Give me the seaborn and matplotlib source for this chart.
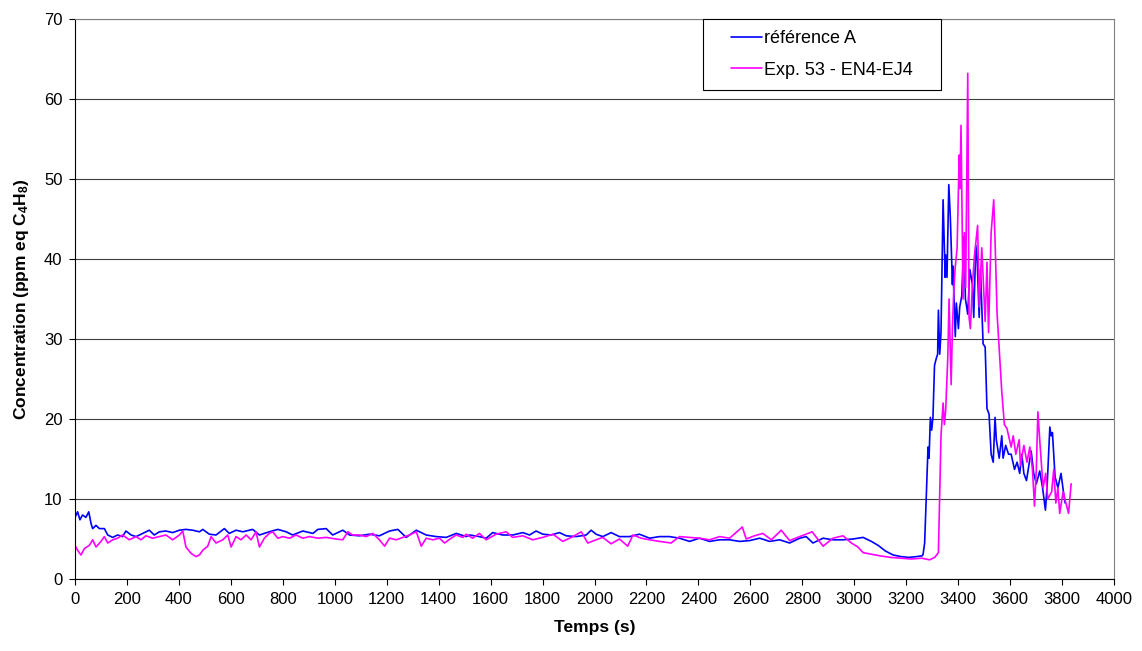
import pandas as pd
import seaborn as sb
import matplotlib.pyplot as plt
from matplotlib.patches import Rectangle

# référence A (blue)
t_ref = [0, 10, 19, 29, 42, 53, 62, 68, 81, 94, 113, 126, 145, 164, 183, 196, 216, 235, 261, 286,
         305, 325, 350, 376, 402, 427, 453, 479, 492, 517, 543, 575, 594, 620, 646, 684, 710, 748, 781, 813,
         838, 877, 916, 935, 967, 992, 1031, 1057, 1095, 1134, 1172, 1211, 1243, 1275, 1314, 1352, 1391, 1429, 1468, 1506,
         1519, 1557, 1583, 1608, 1647, 1686, 1724, 1750, 1775, 1801, 1833, 1865, 1891, 1929, 1968, 1987, 2006, 2032, 2064, 2096,
         2135, 2173, 2212, 2250, 2289, 2327, 2366, 2404, 2443, 2482, 2520, 2559, 2597, 2636, 2674, 2713, 2751, 2790, 2815, 2841,
         2880, 2918, 2957, 2995, 3034, 3066, 3092, 3120, 3150, 3180, 3210, 3240, 3262, 3265, 3271, 3278, 3284, 3288, 3293, 3298,
         3303, 3309, 3316, 3321, 3324, 3329, 3334, 3342, 3350, 3352, 3357, 3364, 3370, 3378, 3380, 3389, 3393, 3401, 3406, 3414,
         3422, 3428, 3437, 3445, 3455, 3460, 3468, 3473, 3481, 3486, 3496, 3504, 3511, 3519, 3527, 3535, 3542, 3547, 3558, 3568,
         3573, 3583, 3594, 3604, 3617, 3627, 3637, 3645, 3653, 3663, 3681, 3691, 3701, 3714, 3725, 3736, 3743, 3753, 3758, 3763,
         3773, 3784, 3796, 3807, 3812]
c_ref = [7.7, 8.4, 7.4, 8.0, 7.7, 8.4, 6.9, 6.3, 6.7, 6.3, 6.3, 5.5, 5.2, 5.5, 5.3, 6.0, 5.5, 5.3, 5.7, 6.1,
         5.5, 5.9, 6.0, 5.8, 6.1, 6.2, 6.1, 5.9, 6.2, 5.6, 5.5, 6.3, 5.7, 6.1, 5.9, 6.2, 5.5, 5.9, 6.2, 5.9,
         5.5, 6.0, 5.7, 6.2, 6.3, 5.5, 6.1, 5.5, 5.4, 5.6, 5.4, 6.0, 6.2, 5.2, 6.1, 5.5, 5.3, 5.2, 5.7, 5.3,
         5.5, 5.3, 5.1, 5.8, 5.5, 5.5, 5.8, 5.5, 6.0, 5.6, 5.5, 5.8, 5.4, 5.3, 5.5, 6.1, 5.6, 5.3, 5.8, 5.3,
         5.3, 5.6, 5.1, 5.3, 5.3, 5.1, 4.7, 5.1, 4.7, 4.9, 4.9, 4.7, 4.8, 5.1, 4.7, 4.9, 4.5, 5.1, 5.3, 4.5,
         5.1, 4.9, 4.9, 5.0, 5.2, 4.7, 4.2, 3.5, 3.0, 2.8, 2.7, 2.8, 2.9, 3.1, 4.5, 10.9, 16.5, 15.1, 20.2, 18.6,
         20.2, 26.7, 27.6, 28.1, 33.6, 28.1, 30.8, 47.4, 37.7, 40.5, 37.7, 49.3, 45.1, 36.8, 39.1, 30.3, 34.5, 31.3, 34.0, 35.4,
         42.8, 35.0, 33.1, 38.7, 36.8, 32.7, 41.7, 40.1, 32.7, 38.7, 29.4, 29.0, 21.3, 20.6, 15.6, 14.6, 20.2, 17.4, 15.1, 17.9,
         15.1, 16.7, 15.6, 15.6, 13.7, 14.6, 13.2, 15.6, 13.2, 12.3, 16.0, 13.2, 11.9, 13.5, 11.4, 8.6, 11.9, 19.0, 17.9, 18.3,
         12.8, 11.4, 13.2, 10.5, 9.5]

# Exp. 53 - EN4-EJ4 (magenta)
t_exp = [0, 10, 23, 36, 55, 68, 81, 100, 113, 126, 145, 164, 183, 209, 235, 254, 273, 299, 325, 350,
         376, 402, 415, 427, 447, 466, 479, 492, 511, 524, 543, 569, 588, 601, 620, 639, 659, 678, 697, 710,
         729, 748, 761, 781, 800, 826, 851, 877, 903, 935, 967, 1005, 1031, 1050, 1069, 1095, 1121, 1147, 1172, 1192,
         1211, 1237, 1262, 1288, 1314, 1333, 1352, 1378, 1403, 1423, 1448, 1468, 1493, 1506, 1531, 1557, 1583, 1621, 1660, 1685,
         1724, 1762, 1801, 1840, 1878, 1917, 1949, 1974, 2006, 2032, 2064, 2096, 2128, 2148, 2180, 2212, 2250, 2295, 2327, 2366,
         2404, 2443, 2482, 2520, 2569, 2584, 2616, 2648, 2681, 2719, 2751, 2790, 2838, 2880, 2918, 2957, 2989, 3014, 3034, 3066,
         3098, 3140, 3180, 3220, 3260, 3290, 3310, 3324, 3329, 3334, 3342, 3347, 3352, 3360, 3365, 3373, 3378, 3383, 3388, 3396,
         3404, 3407, 3411, 3419, 3424, 3429, 3437, 3442, 3447, 3455, 3463, 3475, 3481, 3491, 3504, 3511, 3517, 3527, 3537, 3542,
         3550, 3568, 3578, 3588, 3604, 3612, 3622, 3635, 3640, 3653, 3665, 3676, 3686, 3694, 3701, 3707, 3714, 3727, 3737, 3745,
         3760, 3768, 3776, 3784, 3791, 3804, 3825, 3835]
c_exp = [4.2, 3.6, 3.0, 3.8, 4.2, 4.9, 4.0, 4.7, 5.3, 4.5, 4.9, 5.1, 5.5, 4.9, 5.3, 4.9, 5.4, 5.1, 5.3, 5.5,
         4.9, 5.5, 6.0, 4.0, 3.2, 2.8, 3.0, 3.6, 4.1, 5.3, 4.5, 4.9, 5.5, 4.0, 5.3, 4.9, 5.5, 4.9, 5.9, 4.0,
         5.1, 5.7, 5.9, 5.1, 5.3, 5.1, 5.5, 5.1, 5.3, 5.1, 5.2, 5.0, 4.9, 5.9, 5.5, 5.5, 5.3, 5.7, 4.9, 4.1,
         5.1, 4.9, 5.2, 5.5, 5.9, 4.1, 5.1, 4.9, 5.1, 4.5, 5.1, 5.5, 5.2, 5.6, 5.1, 5.7, 4.9, 5.6, 5.9, 5.2,
         5.4, 4.9, 5.2, 5.6, 4.7, 5.3, 5.9, 4.5, 4.9, 5.2, 4.4, 5.0, 4.1, 5.5, 5.1, 4.9, 4.7, 4.5, 5.3, 5.2,
         5.1, 4.9, 5.3, 5.1, 6.5, 5.0, 5.4, 5.7, 4.9, 6.1, 4.8, 5.3, 5.9, 4.1, 5.1, 5.4, 4.5, 4.0, 3.3, 3.1,
         2.9, 2.7, 2.6, 2.5, 2.6, 2.4, 2.7, 3.3, 10.9, 17.9, 22.0, 19.3, 21.1, 27.6, 35.0, 24.3, 31.3, 35.9, 38.7, 41.4,
         53.0, 48.8, 56.7, 35.0, 43.3, 36.4, 63.2, 32.7, 31.3, 36.8, 40.5, 44.2, 34.0, 41.4, 32.2, 39.6, 30.8, 43.3, 47.4, 42.4,
         33.1, 23.4, 19.3, 18.8, 16.5, 17.9, 15.6, 17.4, 14.2, 16.7, 14.6, 16.5, 13.7, 9.1, 13.7, 20.9, 17.4, 11.4, 13.2, 10.0,
         10.9, 13.7, 9.5, 11.4, 8.2, 10.9, 8.2, 11.9]

lab_ref = 'référence A'
lab_exp = 'Exp. 53 - EN4-EJ4'

df = pd.concat([
    pd.DataFrame({'t': t_ref, 'c': c_ref, 'serie': lab_ref}),
    pd.DataFrame({'t': t_exp, 'c': c_exp, 'serie': lab_exp}),
])

sb.set_style('white')
plt.rcParams['font.family'] = ['Liberation Sans', 'DejaVu Sans']
plt.rcParams['mathtext.default'] = 'regular'
plt.rcParams['text.color'] = 'black'
plt.rcParams['axes.labelcolor'] = 'black'
plt.rcParams['xtick.color'] = 'black'
plt.rcParams['ytick.color'] = 'black'

fig = plt.figure(figsize=(11.42, 6.51), dpi=100)
ax = fig.add_axes([75 / 1142, 1 - 579 / 651, (1114 - 75) / 1142, (579 - 19) / 651])

sb.lineplot(data=df, x='t', y='c', hue='serie', sort=False, estimator=None,
            palette={lab_ref: '#0000FF', lab_exp: '#FF00FF'}, linewidth=1.2, ax=ax)

ax.set_xlim(0, 4000)
ax.set_ylim(0, 70)
ax.set_xticks(range(0, 4001, 200))
ax.set_yticks(range(0, 71, 10))
ax.yaxis.grid(True, color='#404040', linewidth=0.8)
ax.set_axisbelow(True)
for s in ['top', 'right']:
    ax.spines[s].set_color('#808080')
for s in ['left', 'bottom']:
    ax.spines[s].set_color('black')
ax.tick_params(axis='both', direction='out', length=4, width=0.8, colors='black',
               labelsize=12, bottom=True, left=True, pad=5)

ax.set_xlabel('Temps (s)', fontsize=12.5, fontweight='bold', labelpad=10)
ax.set_ylabel('Concentration (ppm eq C$_4$H$_8$)', fontsize=12.5, fontweight='bold', labelpad=9)

# legend box (pixel box 703..941 x 19..90)
x0, x1 = (703 - 75) / 1039, (941 - 75) / 1039
y0, y1 = (579 - 90) / 560, 1.0
ax.add_patch(Rectangle((x0, y0), x1 - x0, y1 - y0, transform=ax.transAxes,
                       facecolor='white', edgecolor='black', linewidth=0.8,
                       clip_on=False, zorder=4.5))
leg = ax.legend(loc='center', bbox_to_anchor=((x0 + x1) / 2, (y0 + y1) / 2), frameon=False,
                fontsize=13, handlelength=1.7, handletextpad=0.15,
                labelspacing=0.8, borderpad=0, borderaxespad=0)
for txt in leg.get_texts():
    txt.set_color('black')

fig.savefig('out.png', dpi=100)
